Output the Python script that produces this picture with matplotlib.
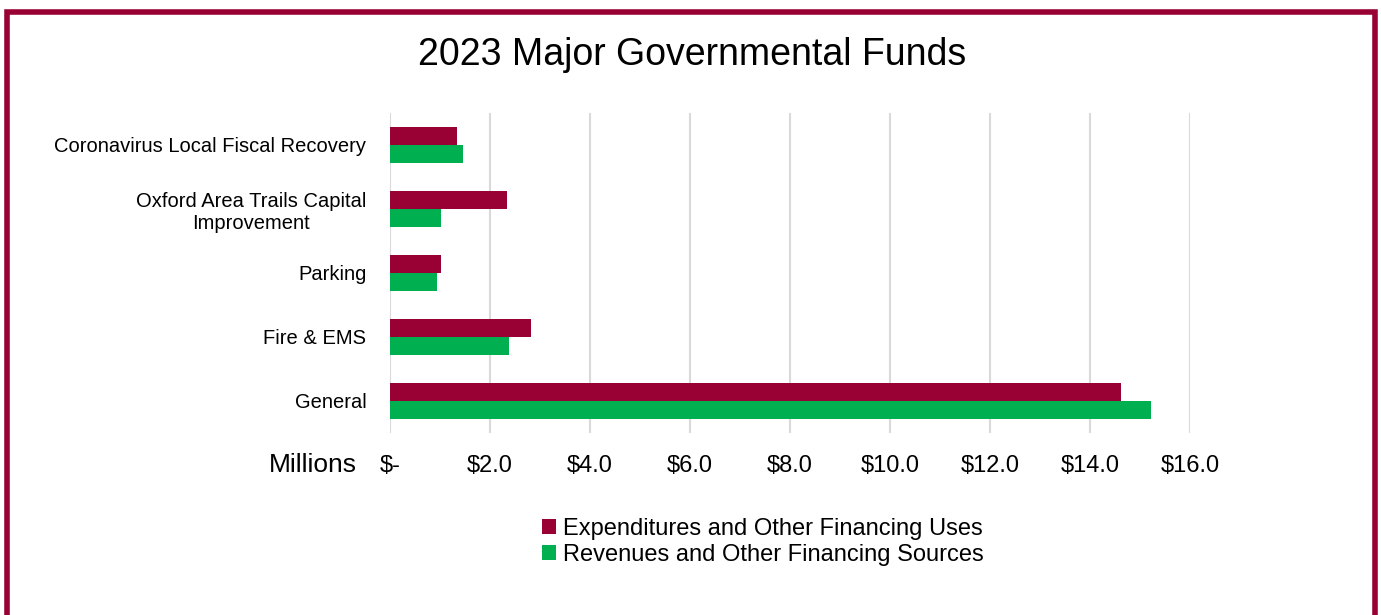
import matplotlib.pyplot as plt
import matplotlib.patches as patches
import numpy as np

plt.rcParams['font.family'] = ['Liberation Sans', 'DejaVu Sans']

# data (millions), bottom to top
funds = ['General', 'Fire & EMS', 'Parking',
         'Oxford Area Trails Capital\nImprovement',
         'Coronavirus Local Fiscal Recovery']
expenditures = [14.62, 2.82, 1.02, 2.34, 1.34]
revenues = [15.22, 2.38, 0.94, 1.02, 1.46]
x_ticks = [0, 2, 4, 6, 8, 10, 12, 14, 16]

maroon = '#990033'
green = '#00B050'

fig = plt.figure(figsize=(13.81, 6.15), dpi=100)
ax = fig.add_axes([390 / 1381, 1 - 433 / 615, 800 / 1381, 320 / 615])

y = np.arange(len(funds))
h = 0.28
ax.barh(y + h / 2, expenditures, height=h, color=maroon, zorder=3,
        label='Expenditures and Other Financing Uses')
ax.barh(y - h / 2, revenues, height=h, color=green, zorder=3,
        label='Revenues and Other Financing Sources')

ax.set_xlim(0, 16)
ax.set_ylim(-0.5, len(funds) - 0.5)
ax.set_xticks(x_ticks)
ax.set_xticklabels(['$-' if v == 0 else '$%.1f' % v for v in x_ticks], fontsize=17)
ax.set_yticks(y)
ax.set_yticklabels(funds, fontsize=14.5, multialignment='center')
ax.tick_params(axis='x', length=0, pad=15.5)
ax.tick_params(axis='y', length=0, pad=17)
ax.grid(axis='x', color='#d9d9d9', linewidth=1.5, zorder=0)
for s in ax.spines.values():
    s.set_visible(False)

fig.text(357 / 1381, 1 - 465 / 615, 'Millions', fontsize=19, ha='right', va='center')
fig.text(692 / 1381, 1 - 55 / 615, '2023 Major Governmental Funds', fontsize=27,
         ha='center', va='center')

fig.legend(loc='center', bbox_to_anchor=(763 / 1381, 1 - 542 / 615), frameon=False,
           fontsize=17, handlelength=0.6, handleheight=0.6, handletextpad=0.3,
           labelspacing=0.15)

border = patches.Rectangle((7 / 1381, -0.05), 1368 / 1381, 1.05 - 12 / 615,
                           transform=fig.transFigure, fill=False,
                           edgecolor=maroon, linewidth=4)
fig.patches.append(border)

fig.savefig('out.png', dpi=100)
